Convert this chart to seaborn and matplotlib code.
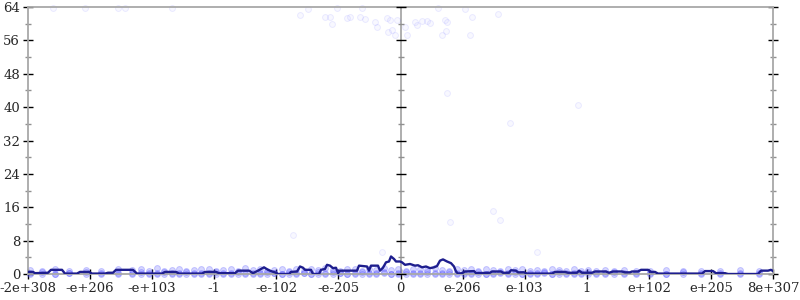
import numpy as np
import pandas as pd
import matplotlib
matplotlib.use("Agg")
import matplotlib.pyplot as plt
from matplotlib.ticker import FixedLocator
import seaborn as sns

# ---------------- data ----------------
# x is a bin index (0..745) over the ordered range of doubles
tick_labels = ["-2e+308", "-e+206", "-e+103", "-1", "-e-102", "-e-205", "0",
               "e-206", "e-103", "1", "e+102", "e+205", "8e+307"]
x_max = 745
y_major = [0, 8, 16, 24, 32, 40, 48, 56, 64]
y_minor = [4, 12, 20, 28, 36, 44, 52, 60]

line_x = [0, 5, 7, 20, 23, 34, 37, 49, 52, 61, 64, 77, 80, 85, 88, 105, 109, 134,
          137, 148, 151, 174, 177, 188, 191, 207, 210, 221, 225, 230, 236, 240, 243,
          248, 250, 261, 263, 269, 272, 275, 277, 283, 285, 291, 293, 297, 299, 302,
          305, 308, 310, 312, 329, 331, 339, 341, 343, 350, 352, 355, 358, 361, 363,
          366, 368, 372, 374, 377, 382, 387, 390, 394, 398, 402, 406, 409, 412, 415,
          419, 423, 426, 428, 430, 434, 437, 446, 448, 462, 464, 473, 475, 481, 483,
          488, 490, 496, 499, 524, 527, 537, 540, 549, 551, 554, 564, 567, 578, 581,
          585, 594, 597, 602, 604, 610, 613, 620, 623, 627, 630, 674, 677, 685, 688,
          697, 700, 730, 733, 740, 743, 745]
line_y = [0.5, 0.5, 0.2, 0.3, 1.0, 1.0, 0.1, 0.1, 0.5, 0.5, 0.1, 0.1, 0.3, 0.3, 1.0, 1.0, 0.1, 0.1,
          0.5, 0.5, 0.1, 0.1, 0.5, 0.5, 0.2, 0.2, 0.8, 0.8, 0.2, 0.8, 1.6, 1.0, 0.7,
          0.3, 0.0, 0.0, 0.5, 0.6, 1.8, 1.5, 1.0, 1.0, 0.0, 0.0, 1.0, 1.2, 2.2, 2.0,
          1.4, 1.5, 0.2, 0.8, 0.8, 2.0, 1.8, 0.8, 2.0, 2.0, 0.8, 1.5, 2.8, 3.0, 4.2,
          3.6, 3.0, 3.0, 2.8, 2.2, 2.4, 2.0, 2.1, 1.6, 1.8, 1.4, 1.6, 1.9, 3.2, 3.5,
          3.0, 2.6, 1.8, 0.6, 0.1, 0.2, 0.6, 0.7, 0.2, 0.3, 0.6, 0.6, 0.3, 0.3, 0.9,
          0.8, 0.4, 0.4, 0.1, 0.1, 0.5, 0.5, 0.3, 0.3, 0.8, 0.3, 0.3, 0.6, 0.6, 0.3,
          0.6, 0.6, 0.4, 0.4, 0.6, 0.6, 1.0, 1.0, 0.5, 0.5, 0.1, 0.1, 0.7, 0.7, 0.2,
          0.2, 0.0, 0.0, 0.8, 0.8, 1.0, 0.7]

band_x = [2, 14, 27, 41, 58, 73, 90, 104, 113, 121, 129, 136, 144, 151, 158, 166, 173,
          181, 188, 195, 203, 210, 217, 225, 232, 239, 246, 254, 261, 268, 276, 283, 290,
          297, 305, 312, 319, 327, 334, 341, 348, 356, 363, 370, 378, 385, 392, 399, 407,
          414, 421, 429, 436, 443, 450, 458, 465, 472, 480, 487, 494, 502, 509, 516, 524,
          531, 538, 546, 553, 560, 568, 577, 586, 596, 608, 622, 638, 655, 673, 692, 712, 731]
band_y1 = [0.2, 0.4, 0.1, 0.3, 0.5, 0.2, 0.3, 0.1, 0.4, 0.2,
           0.3, 0.5, 0.1, 0.2, 0.4, 0.3, 0.2, 0.1, 0.5, 0.3,
           0.2, 0.4, 0.1, 0.3, 0.2, 0.5, 0.3, 0.1, 0.4, 0.2,
           0.3, 0.1, 0.5, 0.2, 0.4, 0.3, 0.1, 0.2, 0.5, 0.3,
           0.2, 0.4, 0.1, 0.3, 0.5, 0.2, 0.1, 0.4, 0.3, 0.2,
           0.5, 0.1, 0.3, 0.2, 0.4, 0.1, 0.3, 0.5, 0.2, 0.4,
           0.1, 0.3, 0.2, 0.5, 0.1, 0.4, 0.3, 0.2, 0.1, 0.5,
           0.3, 0.2, 0.4, 0.1, 0.3, 0.2, 0.1, 0.4, 0.2, 0.3,
           0.1, 0.2]
band_y2 = [0.9, 0.7, 1.2, 0.8, 1.0, 0.6, 1.3, 0.9, 1.1, 0.7,
           1.4, 0.8, 1.0, 1.2, 0.6, 0.9, 1.3, 1.1, 0.7, 1.0,
           1.2, 0.8, 1.4, 0.9, 1.1, 0.6, 1.0, 1.3, 0.8, 1.2,
           0.7, 1.1, 0.9, 1.4, 1.0, 0.8, 1.2, 1.3, 0.7, 1.1,
           0.9, 1.4, 1.0, 1.2, 0.8, 1.3, 1.1, 0.9, 1.4, 1.0,
           0.7, 1.2, 0.9, 1.1, 0.8, 1.3, 1.0, 0.7, 1.2, 0.9,
           1.1, 0.8, 1.0, 0.7, 1.2, 0.9, 0.6, 1.1, 0.8, 1.0,
           0.7, 0.9, 0.6, 1.0, 0.8, 0.7, 0.9, 0.6, 0.8, 0.7,
           0.9, 0.6]
band_y3 = [0.0, 0.1, 0.0, 0.2, 0.0, 0.1, 0.0, 0.2, 0.1, 0.0,
           0.1, 0.0, 0.2, 0.0, 0.1, 0.0, 0.0, 0.2, 0.1, 0.0,
           0.0, 0.1, 0.2, 0.0, 0.1, 0.0, 0.2, 0.0, 0.1, 0.0,
           0.2, 0.0, 0.1, 0.0, 0.0, 0.2, 0.1, 0.0, 0.1, 0.0,
           0.0, 0.2, 0.1, 0.0, 0.1, 0.0, 0.2, 0.0, 0.0, 0.1,
           0.0, 0.2, 0.1, 0.0, 0.0, 0.1, 0.0, 0.2, 0.0, 0.1,
           0.0, 0.0, 0.1, 0.2, 0.0, 0.1, 0.0, 0.0, 0.2, 0.1,
           0.0, 0.1, 0.0, 0.2, 0.0, 0.1, 0.0, 0.0, 0.1, 0.0,
           0.2, 0.0]

sparse_x = [272, 297, 302, 304, 319, 322, 332, 337, 347, 349, 359, 362, 360, 364, 367,
            369, 377, 379, 387, 389, 394, 399, 402, 417, 419, 418, 414, 442, 444, 470,
            419, 25, 57, 90, 97, 144, 280, 309, 334, 410, 437,
            265, 354, 422, 465, 472, 509, 550, 482]
sparse_y = [62.1, 61.6, 61.6, 60.0, 61.4, 61.6, 61.6, 61.2, 60.4, 59.2, 61.4, 60.9, 58.0,
            58.5, 57.3, 60.9, 59.2, 57.3, 60.4, 59.7, 60.7, 60.7, 60.2, 60.9, 60.4, 58.3,
            57.3, 57.3, 61.6, 62.4,
            43.4, 63.8, 63.8, 63.8, 63.8, 63.8, 63.6, 63.8, 63.7, 63.8, 63.6,
            9.4, 5.3, 12.5, 15.1, 12.9, 5.3, 40.5, 36.2]

band_df = pd.DataFrame({"x": band_x * 3, "y": band_y1 + band_y2 + band_y3})
sparse_df = pd.DataFrame({"x": sparse_x, "y": sparse_y})
line_df = pd.DataFrame({"x": line_x, "y": line_y})

# ---------------- plot ----------------
sns.set_style("white")
plt.rcParams["font.family"] = ["DejaVu Serif"]

L, B, W, H = 28 / 800, 26 / 300, 745 / 800, 267 / 300
fig = plt.figure(figsize=(8, 3), dpi=100)
ax = fig.add_axes([L, B, W, H])

grey = "#a8a8a8"
x_center = x_max / 2

# central axis line at x = 0
ax.axvline(x_center, color=grey, lw=1.3, zorder=1)

sns.scatterplot(data=sparse_df, x="x", y="y", ax=ax, s=18, linewidth=0.7,
                color="#3030ff", legend=False, zorder=2, clip_on=False)
c1 = ax.collections[-1]
c1.set_facecolor((0.3, 0.3, 1.0, 0.035))
c1.set_edgecolor((0.3, 0.3, 1.0, 0.10))

sns.scatterplot(data=band_df, x="x", y="y", ax=ax, s=18, linewidth=0.7,
                color="#3030ff", legend=False, zorder=2, clip_on=False)
c2 = ax.collections[-1]
c2.set_facecolor((0.3, 0.3, 1.0, 0.22))
c2.set_edgecolor((0.3, 0.3, 1.0, 0.28))

sns.lineplot(data=line_df, x="x", y="y", ax=ax, color="#1e1e8e", lw=1.7,
             estimator=None, sort=False, zorder=3)

# tick marks of the central axis
ax.plot([x_center] * len(y_major), y_major, ls="none", marker="_", ms=7.2,
        mew=1, color="black", zorder=4, clip_on=False)
ax.plot([x_center] * len(y_minor), y_minor, ls="none", marker="_", ms=4.2,
        mew=1, color="#909090", zorder=4, clip_on=False)

ax.set_xlim(0, x_max)
ax.set_ylim(0, 64)
ax.set_xlabel("")
ax.set_ylabel("")

for side in ["left", "right", "top", "bottom"]:
    ax.spines[side].set_visible(True)
    ax.spines[side].set_color(grey)
    ax.spines[side].set_linewidth(1.3)

ax.xaxis.set_major_locator(FixedLocator(np.linspace(0, x_max, len(tick_labels))))
ax.set_xticklabels(tick_labels)
ax.yaxis.set_major_locator(FixedLocator(y_major))
ax.yaxis.set_minor_locator(FixedLocator(y_minor))

ax.tick_params(axis="x", which="major", direction="inout", length=7.2, width=1,
               color="black", bottom=True, top=False, labelsize=9.5, pad=2)
ax.tick_params(axis="y", which="major", direction="inout", length=7.2, width=1,
               color="black", left=True, right=True, labelleft=True,
               labelright=False, labelsize=9.5, pad=2)
ax.tick_params(axis="y", which="minor", direction="inout", length=4.2, width=1,
               color="#909090", left=True, right=True)

fig.savefig("out.png", dpi=100)
